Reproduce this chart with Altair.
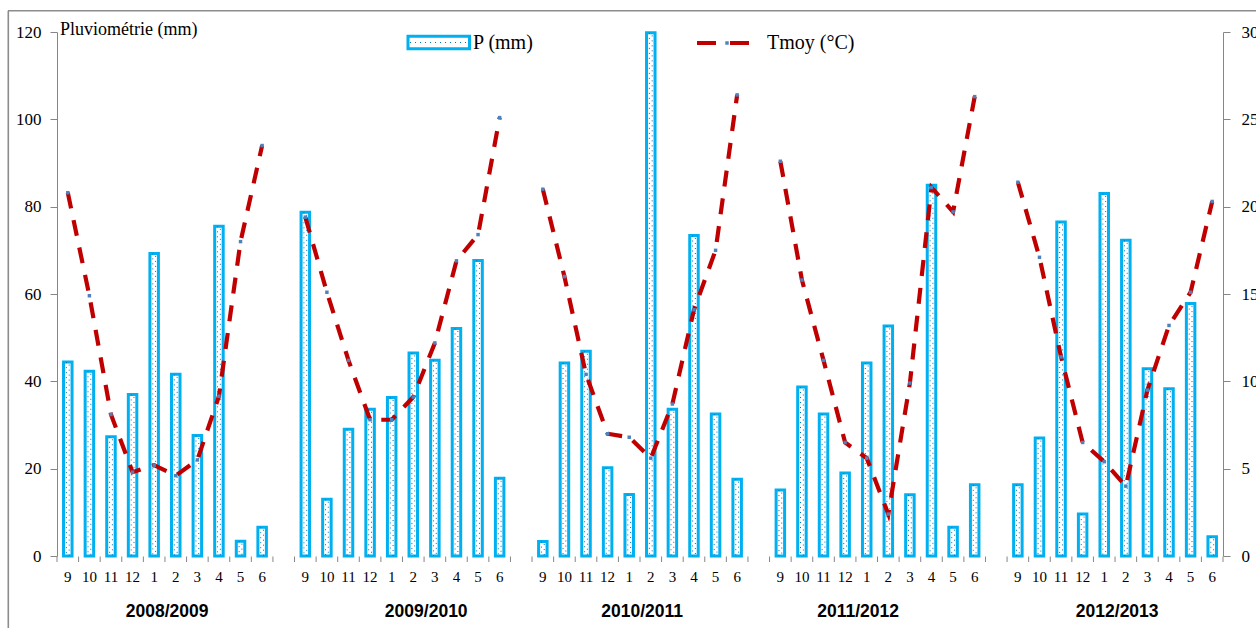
import altair as alt
import pandas as pd

# Monthly rainfall (mm) and mean temperature (°C), September to June, five seasons
months = ["9", "10", "11", "12", "1", "2", "3", "4", "5", "6"]
seasons = ["2008/2009", "2009/2010", "2010/2011", "2011/2012", "2012/2013"]
# month under which each season caption sits
season_label_month = ["2", "3", "2", "1", "2"]

rain_2008_09 = [44.4, 42.3, 27.3, 37.0, 69.3, 41.6, 27.6, 75.5, 3.4, 6.6]
rain_2009_10 = [78.7, 13.0, 29.0, 33.6, 36.3, 46.5, 44.8, 52.1, 67.7, 17.8]
rain_2010_11 = [3.3, 44.2, 46.9, 20.2, 14.1, 119.8, 33.6, 73.4, 32.5, 17.6]
rain_2011_12 = [15.1, 38.7, 32.5, 19.0, 44.2, 52.7, 14.0, 84.9, 6.6, 16.3]
rain_2012_13 = [16.3, 27.0, 76.5, 9.6, 83.0, 72.3, 42.9, 38.3, 57.8, 4.4]

tmoy_2008_09 = [20.8, 14.9, 8.1, 4.8, 5.2, 4.6, 5.5, 9.15, 18.0, 23.5]
tmoy_2009_10 = [19.4, 15.1, 11.2, 7.8, 7.8, 9.1, 12.2, 16.9, 18.4, 25.1]
tmoy_2010_11 = [21.0, 16.0, 10.4, 7.0, 6.8, 5.6, 8.7, 14.1, 17.5, 26.4]
tmoy_2011_12 = [22.6, 15.8, 11.2, 6.5, 5.6, 2.4, 9.9, 21.1, 19.7, 26.3]
tmoy_2012_13 = [21.4, 17.1, 11.4, 6.5, 5.4, 4.0, 9.5, 13.2, 15.1, 20.3]

rain_series = [rain_2008_09, rain_2009_10, rain_2010_11, rain_2011_12, rain_2012_13]
tmoy_series = [tmoy_2008_09, tmoy_2009_10, tmoy_2010_11, tmoy_2011_12, tmoy_2012_13]

# Category axis: ten months per season with one empty slot between seasons
rows = []
domain = []
for i, (season, rain, tmoy) in enumerate(zip(seasons, rain_series, tmoy_series)):
    for m, p, t in zip(months, rain, tmoy):
        cat = f"{season}|{m}"
        domain.append(cat)
        rows.append({"cat": cat, "season": season, "month": m, "P": p, "T": t})
    if i < len(seasons) - 1:
        domain.append(f"gap{i}")
df = pd.DataFrame(rows)
slots_df = pd.DataFrame({"slot": domain})

season_df = pd.DataFrame({
    "season": seasons,
    "anchor": [f"{s}|{m}" for s, m in zip(seasons, season_label_month)],
})

W, H = 1166, 524
SERIF = "Liberation Serif"
CYAN = "#00B0F0"
DOT = "#0070C0"
RED = "#C00000"
MARK = "#4F81BD"
GREY = "#868686"

xscale = alt.Scale(domain=domain, paddingInner=0, paddingOuter=0)

yP_scale = alt.Scale(domain=[0, 120], nice=False, zero=True)
yT_scale = alt.Scale(domain=[0, 30], nice=False, zero=True)

left_axis = alt.Axis(
    title=None, orient="left", values=[0, 20, 40, 60, 80, 100, 120], grid=False,
    domainColor=GREY, tickColor=GREY, tickSize=7, labelPadding=9,
    labelFont=SERIF, labelFontSize=17, labelColor="black")
right_axis = alt.Axis(
    title=None, orient="right", values=[0, 5, 10, 15, 20, 25, 30], grid=False,
    domainColor=GREY, tickColor=GREY, tickSize=7, labelPadding=11,
    labelFont=SERIF, labelFontSize=17, labelColor="black")


def xcat(field="cat", band=0.5):
    return alt.X(f"{field}:N", scale=xscale, axis=None, bandPosition=band)


base = alt.Chart(df)

bars = base.mark_bar(size=8.5, fill="white", stroke=CYAN, strokeWidth=3).encode(
    x=alt.X("cat:N", scale=xscale, axis=None),
    y=alt.Y("P:Q", scale=yP_scale, axis=left_axis),
)
# fine dotted fill inside each bar
dots_a = base.mark_rule(color=DOT, strokeWidth=1, strokeDash=[1, 4], xOffset=-1.4).encode(
    x=xcat(), y=alt.Y("P:Q", scale=yP_scale, axis=None), y2=alt.datum(0)
)
dots_b = base.mark_rule(color=DOT, strokeWidth=1, strokeDash=[1, 4], strokeDashOffset=2.5,
                        xOffset=1.4).encode(
    x=xcat(), y=alt.Y("P:Q", scale=yP_scale, axis=None), y2=alt.datum(0)
)

line = base.mark_line(color=RED, strokeWidth=4.2, strokeDash=[16, 12]).encode(
    x=xcat(),
    y=alt.Y("T:Q", scale=yT_scale, axis=right_axis),
    detail="season:N",
)
markers = base.mark_square(color=MARK, size=12, opacity=1).encode(
    x=xcat(), y=alt.Y("T:Q", scale=yT_scale, axis=None)
)

# category axis: ticks between slots, month numbers, season captions
x_ticks = alt.Chart(slots_df).mark_rule(color=GREY, strokeWidth=1).encode(
    x=xcat("slot", 0), y=alt.value(H + 0.5), y2=alt.value(H + 6)
)
x_end_tick = alt.Chart(slots_df.tail(1)).mark_rule(color=GREY, strokeWidth=1).encode(
    x=xcat("slot", 1), y=alt.value(H + 0.5), y2=alt.value(H + 6)
)
month_labels = base.mark_text(
    font=SERIF, fontSize=15, color="black", baseline="middle"
).encode(x=xcat(), y=alt.value(H + 21), text="month:N")

season_labels = alt.Chart(season_df).mark_text(
    font="Liberation Sans", fontWeight="bold", fontSize=17.5, color="black",
    baseline="middle"
).encode(
    x=xcat("anchor", 0.1),
    y=alt.value(H + 56),
    text="season:N",
)

one = alt.Data(values=[{}])

y_title = alt.Chart(one).mark_text(
    text="Pluviométrie  (mm)", font=SERIF, fontSize=18, align="left", baseline="middle"
).encode(x=alt.value(3), y=alt.value(-2))

leg_box = alt.Chart(one).mark_rect(fill="white", stroke=CYAN, strokeWidth=3).encode(
    x=alt.value(351), x2=alt.value(412.5), y=alt.value(4.3), y2=alt.value(16.7)
)
leg_dots = alt.Chart(one).mark_rule(color=DOT, strokeWidth=1, strokeDash=[1, 4]).encode(
    x=alt.value(353), x2=alt.value(411), y=alt.value(10.5)
)
leg_p = alt.Chart(one).mark_text(
    text="P (mm)", font=SERIF, fontSize=20, align="left", baseline="middle"
).encode(x=alt.value(416), y=alt.value(10.5))

leg_line = alt.Chart(one).mark_rule(color=RED, strokeWidth=4.2, strokeDash=[19, 14]).encode(
    x=alt.value(640), x2=alt.value(692), y=alt.value(11)
)
leg_mark = alt.Chart(one).mark_square(color=MARK, size=12, opacity=1).encode(
    x=alt.value(670), y=alt.value(11)
)
leg_t = alt.Chart(one).mark_text(
    text="Tmoy (°C)", font=SERIF, fontSize=20, align="left", baseline="middle"
).encode(x=alt.value(710), y=alt.value(11))

# thin frame around the whole figure
frame_top = alt.Chart(one).mark_rule(color="#8C8C8C", strokeWidth=1.6).encode(
    x=alt.value(-49), x2=alt.value(1260), y=alt.value(-21.3)
)
frame_left = alt.Chart(one).mark_rule(color="#8C8C8C", strokeWidth=1.6).encode(
    x=alt.value(-48.7), y=alt.value(-21.3), y2=alt.value(700)
)

chart = alt.layer(
    bars, dots_a, dots_b, line, markers, x_ticks, x_end_tick, month_labels,
    season_labels, y_title, leg_box, leg_dots, leg_p, leg_line, leg_mark, leg_t,
    frame_top, frame_left,
).resolve_scale(y="independent").properties(
    width=W, height=H,
    autosize=alt.AutoSizeParams(type="none"),
    padding={"left": 57, "top": 32, "right": 33, "bottom": 72},
    background="white",
).configure_view(stroke=None)

chart.save("out.html", embed_options={"renderer": "svg", "actions": False})
